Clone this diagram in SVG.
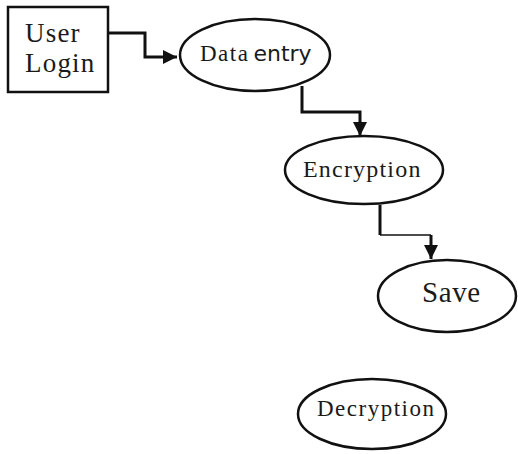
<svg xmlns="http://www.w3.org/2000/svg" width="518" height="454" viewBox="0 0 518 454">
<style>
.n{fill:#fff;stroke:#111;stroke-width:2.5}
.t{font-family:"Liberation Serif","Times New Roman",serif;fill:#1a1a1a}
.c{fill:none;stroke:#111;stroke-width:3}
</style>
<defs>
<marker id="ah" viewBox="0 0 10 10" refX="10" refY="5" markerWidth="16" markerHeight="14" markerUnits="userSpaceOnUse" orient="auto">
<path d="M0,0 L10,5 L0,10 Z" fill="#111"/>
</marker>
</defs>
<rect width="518" height="454" fill="#fff"/>
<g id="connectors">
<polyline class="c" points="108,33 145,33 145,57 177,57" marker-end="url(#ah)"/>
<polyline class="c" points="302,86 302,112 360,112 360,136" marker-end="url(#ah)"/>
<polyline class="c" points="380,205 380,235"/>
<polyline fill="none" stroke="#111" stroke-width="1.5" points="380,235 431,235"/>
<polyline class="c" points="431,235 431,259" marker-end="url(#ah)"/>
</g>
<g id="user-login">
<rect class="n" x="8" y="7" width="100" height="85"/>
<text class="t" x="25" y="42" font-size="27" letter-spacing="1.2">User</text>
<text class="t" x="25" y="72" font-size="27" letter-spacing="1.2">Login</text>
</g>
<g id="data-entry">
<ellipse class="n" cx="255" cy="55" rx="75" ry="36"/>
<text x="200" y="61"><tspan class="t" font-size="23" letter-spacing="1.5">Data</tspan><tspan font-family="DejaVu Sans,Verdana,sans-serif" font-size="22" fill="#1a1a1a" dx="4">entry</tspan></text>
</g>
<g id="encryption">
<ellipse class="n" cx="364" cy="170" rx="79" ry="34"/>
<text class="t" x="303" y="177" font-size="24" letter-spacing="1.2">Encryption</text>
</g>
<g id="save">
<ellipse class="n" cx="447" cy="296" rx="69" ry="36"/>
<text class="t" x="422" y="302" font-size="29" letter-spacing="0.6">Save</text>
</g>
<g id="decryption">
<ellipse class="n" cx="372" cy="414" rx="74" ry="35"/>
<text class="t" x="317" y="416" font-size="23" letter-spacing="1.5">Decryption</text>
</g>
</svg>
